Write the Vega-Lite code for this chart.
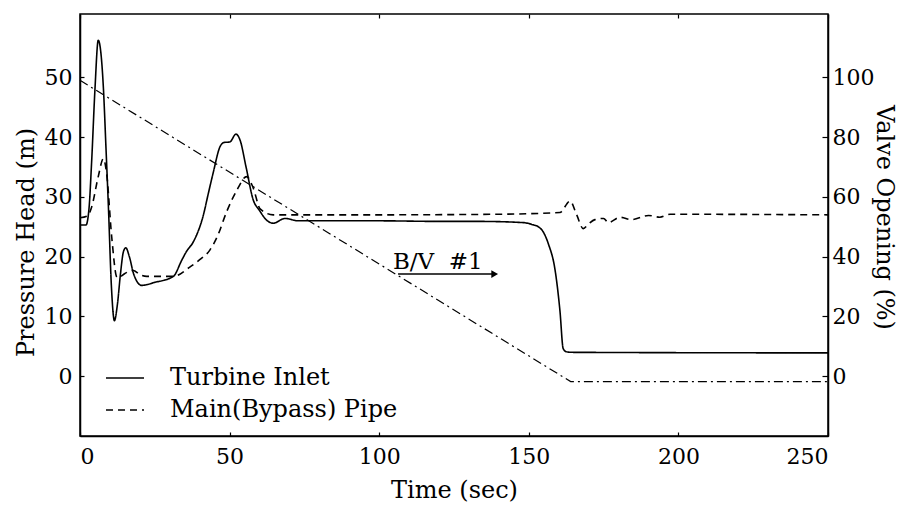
{
  "$schema": "https://vega.github.io/schema/vega-lite/v6.json",
  "width": 748,
  "height": 422,
  "autosize": {"type": "none"},
  "padding": {"left": 80, "top": 14, "right": 80, "bottom": 74},
  "background": "white",
  "config": {
    "font": "DejaVu Serif",
    "view": {"stroke": "black", "strokeWidth": 1.5},
    "axis": {
      "grid": false,
      "domainColor": "black",
      "domainWidth": 1.5,
      "tickColor": "black",
      "tickWidth": 1.2,
      "labelFont": "DejaVu Serif",
      "labelFontSize": 22,
      "labelColor": "black",
      "titleFont": "DejaVu Serif",
      "titleFontSize": 24,
      "titleFontWeight": "normal",
      "titleColor": "black"
    }
  },
  "datasets": {
    "pressure": [
      {"t": 0, "h": 25.3, "series": "Turbine Inlet"},
      {"t": 2, "h": 25.3, "series": "Turbine Inlet"},
      {"t": 3, "h": 28, "series": "Turbine Inlet"},
      {"t": 3.9, "h": 36, "series": "Turbine Inlet"},
      {"t": 5, "h": 48, "series": "Turbine Inlet"},
      {"t": 6.1, "h": 56.2, "series": "Turbine Inlet"},
      {"t": 7, "h": 54, "series": "Turbine Inlet"},
      {"t": 7.8, "h": 48.4, "series": "Turbine Inlet"},
      {"t": 8.7, "h": 38, "series": "Turbine Inlet"},
      {"t": 9.5, "h": 28.3, "series": "Turbine Inlet"},
      {"t": 10.5, "h": 15, "series": "Turbine Inlet"},
      {"t": 11.5, "h": 9.3, "series": "Turbine Inlet"},
      {"t": 12.5, "h": 12, "series": "Turbine Inlet"},
      {"t": 13.5, "h": 17, "series": "Turbine Inlet"},
      {"t": 14.5, "h": 20.8, "series": "Turbine Inlet"},
      {"t": 15.3, "h": 21.5, "series": "Turbine Inlet"},
      {"t": 16.5, "h": 20, "series": "Turbine Inlet"},
      {"t": 18, "h": 17, "series": "Turbine Inlet"},
      {"t": 20.6, "h": 15.2, "series": "Turbine Inlet"},
      {"t": 25, "h": 15.7, "series": "Turbine Inlet"},
      {"t": 31.2, "h": 16.7, "series": "Turbine Inlet"},
      {"t": 34, "h": 19.4, "series": "Turbine Inlet"},
      {"t": 35.5, "h": 20.8, "series": "Turbine Inlet"},
      {"t": 37.9, "h": 22.5, "series": "Turbine Inlet"},
      {"t": 41.2, "h": 26.9, "series": "Turbine Inlet"},
      {"t": 42.9, "h": 30.6, "series": "Turbine Inlet"},
      {"t": 44.5, "h": 34, "series": "Turbine Inlet"},
      {"t": 46.8, "h": 38.4, "series": "Turbine Inlet"},
      {"t": 48.1, "h": 39.1, "series": "Turbine Inlet"},
      {"t": 50.1, "h": 39.2, "series": "Turbine Inlet"},
      {"t": 52.1, "h": 40.5, "series": "Turbine Inlet"},
      {"t": 53.5, "h": 39.5, "series": "Turbine Inlet"},
      {"t": 55.5, "h": 35, "series": "Turbine Inlet"},
      {"t": 57.9, "h": 29.5, "series": "Turbine Inlet"},
      {"t": 59.9, "h": 27.8, "series": "Turbine Inlet"},
      {"t": 62.4, "h": 26.1, "series": "Turbine Inlet"},
      {"t": 64.6, "h": 25.6, "series": "Turbine Inlet"},
      {"t": 68.5, "h": 26.4, "series": "Turbine Inlet"},
      {"t": 72.9, "h": 26.0, "series": "Turbine Inlet"},
      {"t": 80, "h": 26.0, "series": "Turbine Inlet"},
      {"t": 100, "h": 26.0, "series": "Turbine Inlet"},
      {"t": 120, "h": 25.9, "series": "Turbine Inlet"},
      {"t": 133.7, "h": 25.9, "series": "Turbine Inlet"},
      {"t": 148.2, "h": 25.7, "series": "Turbine Inlet"},
      {"t": 151, "h": 25.4, "series": "Turbine Inlet"},
      {"t": 153.2, "h": 25.0, "series": "Turbine Inlet"},
      {"t": 155, "h": 24, "series": "Turbine Inlet"},
      {"t": 156.5, "h": 22.2, "series": "Turbine Inlet"},
      {"t": 158.8, "h": 17.7, "series": "Turbine Inlet"},
      {"t": 160.4, "h": 11.0, "series": "Turbine Inlet"},
      {"t": 161.5, "h": 4.6, "series": "Turbine Inlet"},
      {"t": 162.5, "h": 4.1, "series": "Turbine Inlet"},
      {"t": 164.3, "h": 4.0, "series": "Turbine Inlet"},
      {"t": 250, "h": 3.9, "series": "Turbine Inlet"},
      {"t": 0, "h": 26.5, "series": "Main(Bypass) Pipe"},
      {"t": 2.5, "h": 26.8, "series": "Main(Bypass) Pipe"},
      {"t": 3.9, "h": 28.3, "series": "Main(Bypass) Pipe"},
      {"t": 6.1, "h": 33.4, "series": "Main(Bypass) Pipe"},
      {"t": 7.8, "h": 36.4, "series": "Main(Bypass) Pipe"},
      {"t": 8.9, "h": 33.9, "series": "Main(Bypass) Pipe"},
      {"t": 10.6, "h": 23.3, "series": "Main(Bypass) Pipe"},
      {"t": 12.3, "h": 16.6, "series": "Main(Bypass) Pipe"},
      {"t": 12.8, "h": 16.5, "series": "Main(Bypass) Pipe"},
      {"t": 15, "h": 17.2, "series": "Main(Bypass) Pipe"},
      {"t": 17.8, "h": 17.7, "series": "Main(Bypass) Pipe"},
      {"t": 20, "h": 17.0, "series": "Main(Bypass) Pipe"},
      {"t": 22.3, "h": 16.7, "series": "Main(Bypass) Pipe"},
      {"t": 31.2, "h": 16.7, "series": "Main(Bypass) Pipe"},
      {"t": 36.8, "h": 18.3, "series": "Main(Bypass) Pipe"},
      {"t": 40, "h": 19.5, "series": "Main(Bypass) Pipe"},
      {"t": 43.4, "h": 21.1, "series": "Main(Bypass) Pipe"},
      {"t": 46, "h": 23.5, "series": "Main(Bypass) Pipe"},
      {"t": 49, "h": 27.5, "series": "Main(Bypass) Pipe"},
      {"t": 52.4, "h": 31.1, "series": "Main(Bypass) Pipe"},
      {"t": 55.7, "h": 33.4, "series": "Main(Bypass) Pipe"},
      {"t": 57.9, "h": 31.5, "series": "Main(Bypass) Pipe"},
      {"t": 60.2, "h": 28.0, "series": "Main(Bypass) Pipe"},
      {"t": 64.6, "h": 27.0, "series": "Main(Bypass) Pipe"},
      {"t": 69.1, "h": 27.0, "series": "Main(Bypass) Pipe"},
      {"t": 100, "h": 27.0, "series": "Main(Bypass) Pipe"},
      {"t": 140, "h": 27.1, "series": "Main(Bypass) Pipe"},
      {"t": 160.4, "h": 27.4, "series": "Main(Bypass) Pipe"},
      {"t": 163.8, "h": 29.3, "series": "Main(Bypass) Pipe"},
      {"t": 166, "h": 27.0, "series": "Main(Bypass) Pipe"},
      {"t": 168.2, "h": 24.7, "series": "Main(Bypass) Pipe"},
      {"t": 170, "h": 25.5, "series": "Main(Bypass) Pipe"},
      {"t": 172.1, "h": 26.2, "series": "Main(Bypass) Pipe"},
      {"t": 175, "h": 26.4, "series": "Main(Bypass) Pipe"},
      {"t": 176.6, "h": 25.7, "series": "Main(Bypass) Pipe"},
      {"t": 180.5, "h": 26.6, "series": "Main(Bypass) Pipe"},
      {"t": 184.4, "h": 26.2, "series": "Main(Bypass) Pipe"},
      {"t": 190, "h": 26.9, "series": "Main(Bypass) Pipe"},
      {"t": 193.8, "h": 26.6, "series": "Main(Bypass) Pipe"},
      {"t": 197.2, "h": 27.1, "series": "Main(Bypass) Pipe"},
      {"t": 250, "h": 27.0, "series": "Main(Bypass) Pipe"}
    ],
    "valve": [
      {"t": 0, "v": 99},
      {"t": 164, "v": -1.8},
      {"t": 250, "v": -1.8}
    ],
    "note": [
      {"t": 104.6, "h": 18.0, "t1": 106.3, "t2": 138.6, "h_arrow": 17.1, "label": "B/V\u00a0\u00a0#1"}
    ]
  },
  "encoding": {
    "x": {
      "field": "t",
      "type": "quantitative",
      "scale": {"domain": [0, 250], "nice": false, "zero": false},
      "axis": {
        "title": "Time (sec)",
        "values": [0, 50, 100, 150, 200, 250],
        "tickSize": -4,
        "labelPadding": 14,
        "titleY": 54,
        "titleBaseline": "middle"
      }
    }
  },
  "layer": [
    {
      "layer": [
        {
          "data": {"name": "pressure"},
          "mark": {"type": "line", "color": "black", "strokeWidth": 1.6, "interpolate": "monotone"},
          "encoding": {
            "y": {
              "field": "h",
              "type": "quantitative",
              "scale": {"domain": [-10, 60.6], "nice": false, "zero": false},
              "axis": {
                "title": "Pressure Head (m)",
                "values": [0, 10, 20, 30, 40, 50],
                "tickSize": -4,
                "labelPadding": 12,
                "titleX": -54,
                "titleY": 228,
                "titleBaseline": "middle"
              }
            },
            "strokeDash": {
              "field": "series",
              "type": "nominal",
              "scale": {
                "domain": ["Turbine Inlet", "Main(Bypass) Pipe"],
                "range": [[1, 0], [7, 5]]
              },
              "legend": {
                "title": null,
                "orient": "none",
                "legendX": 25,
                "legendY": 344,
                "symbolType": "stroke",
                "symbolSize": 1444,
                "symbolStrokeWidth": 1.6,
                "symbolStrokeColor": "black",
                "labelFont": "DejaVu Serif",
                "labelFontSize": 24,
                "labelColor": "black",
                "labelOffset": 25,
                "labelLimit": 500,
                "rowPadding": 0
              }
            }
          }
        },
        {
          "data": {"name": "note"},
          "mark": {"type": "text", "align": "left", "baseline": "alphabetic", "fontSize": 23, "font": "DejaVu Serif", "color": "black"},
          "encoding": {
            "y": {"field": "h", "type": "quantitative"},
            "text": {"field": "label"}
          }
        },
        {
          "data": {"name": "note"},
          "mark": {"type": "rule", "color": "black", "strokeWidth": 1.4},
          "encoding": {
            "x": {"field": "t1", "type": "quantitative"},
            "x2": {"field": "t2"},
            "y": {"field": "h_arrow", "type": "quantitative"}
          }
        },
        {
          "data": {"name": "note"},
          "mark": {"type": "point", "shape": "triangle-right", "filled": true, "color": "black", "size": 60, "opacity": 1},
          "encoding": {
            "x": {"field": "t2", "type": "quantitative"},
            "y": {"field": "h_arrow", "type": "quantitative"}
          }
        }
      ]
    },
    {
      "data": {"name": "valve"},
      "mark": {"type": "line", "color": "black", "strokeWidth": 1.2, "strokeDash": [9, 4, 2, 4]},
      "encoding": {
        "x": {
          "field": "t",
          "type": "quantitative",
          "axis": {
            "orient": "top",
            "title": null,
            "labels": false,
            "domain": false,
            "values": [0, 50, 100, 150, 200, 250],
            "tickSize": -4
          }
        },
        "y": {
          "field": "v",
          "type": "quantitative",
          "scale": {"domain": [-20, 121.2], "nice": false, "zero": false},
          "axis": {
            "orient": "right",
            "title": "Valve Opening (%)",
            "values": [0, 20, 40, 60, 80, 100],
            "tickSize": -6,
            "labelPadding": 10,
            "titleX": 55,
            "titleY": 203,
            "titleAngle": 90,
            "titleBaseline": "middle"
          }
        }
      }
    }
  ],
  "resolve": {"scale": {"y": "independent"}, "axis": {"x": "independent"}}
}
